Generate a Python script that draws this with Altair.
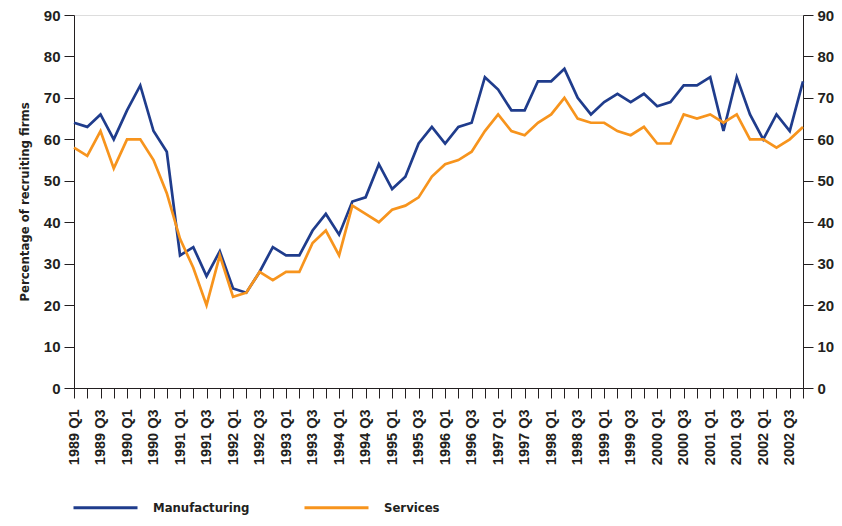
import altair as alt
import pandas as pd

years = list(range(1989, 2003))
quarters = [f"{y} Q{q}" for y in years for q in range(1, 5)]

manufacturing = [64, 63, 66, 60, 67, 73, 62, 57, 32, 34, 27, 33, 24, 23, 28, 34,
                 32, 32, 38, 42, 37, 45, 46, 54, 48, 51, 59, 63, 59, 63, 64, 75,
                 72, 67, 67, 74, 74, 77, 70, 66, 69, 71, 69, 71, 68, 69, 73, 73,
                 75, 62, 75, 66, 60, 66, 62, 74]
services = [58, 56, 62, 53, 60, 60, 55, 47, 36, 29, 20, 32, 22, 23, 28, 26,
            28, 28, 35, 38, 32, 44, 42, 40, 43, 44, 46, 51, 54, 55, 57, 62,
            66, 62, 61, 64, 66, 70, 65, 64, 64, 62, 61, 63, 59, 59, 66, 65,
            66, 64, 66, 60, 60, 58, 60, 63]

series_names = ["Manufacturing", "Services"]
series_colors = ["#1f3c8c", "#f7941d"]

rows = []
for q, m, s in zip(quarters, manufacturing, services):
    rows.append({"quarter": q, "series": "Manufacturing", "value": m})
    rows.append({"quarter": q, "series": "Services", "value": s})
df = pd.DataFrame(rows)

TXT = "#231f20"
NARROW = "'DejaVu Sans Condensed', 'Liberation Sans', sans-serif"

x_enc = alt.X(
    "quarter:O",
    sort=quarters,
    scale=alt.Scale(type="point", padding=0),
    axis=alt.Axis(
        title=None,
        labelAngle=270,
        labelAlign="right",
        labelBaseline="middle",
        labelPadding=11,
        labelFont="Liberation Sans",
        labelFontWeight="bold",
        labelFontSize=14.5,
        labelColor=TXT,
        labelExpr="indexof(datum.value, 'Q1') >= 0 || indexof(datum.value, 'Q3') >= 0 ? datum.value : ''",
        labelOverlap=False,
        tickSize=10,
        tickColor=TXT,
        domainColor=TXT,
        grid=False,
    ),
)

y_scale = alt.Scale(domain=[0, 90], nice=False)

lines = alt.Chart(df).mark_line(strokeWidth=2.7).encode(
    x=x_enc,
    y=alt.Y(
        "value:Q",
        scale=y_scale,
        axis=alt.Axis(
            orient="left",
            title="Percentage of recruiting firms",
            titleFont=NARROW,
            titleFontWeight="bold",
            titleFontSize=13,
            titleColor=TXT,
            titlePadding=12,
            values=list(range(0, 91, 10)),
            labelFont="Liberation Sans",
            labelFontWeight="bold",
            labelFontSize=15,
            labelColor=TXT,
            labelPadding=4,
            tickSize=10,
            tickColor=TXT,
            domainColor=TXT,
            grid=False,
        ),
    ),
    color=alt.Color(
        "series:N",
        scale=alt.Scale(domain=series_names, range=series_colors),
        legend=alt.Legend(
            title=None,
            orient="none",
            legendX=-2,
            legendY=459,
            direction="horizontal",
            symbolType="stroke",
            symbolSize=4096,
            symbolStrokeWidth=3,
            labelOffset=14,
            columnPadding=48,
            labelFont=NARROW,
            labelFontWeight="bold",
            labelFontSize=13,
            labelColor=TXT,
            padding=0,
            offset=0,
        ),
    ),
)

right_axis = alt.Chart(df).mark_line(opacity=0).encode(
    x=x_enc,
    y=alt.Y(
        "value:Q",
        scale=y_scale,
        axis=alt.Axis(
            orient="right",
            title=None,
            values=list(range(0, 91, 10)),
            labelFont="Liberation Sans",
            labelFontWeight="bold",
            labelFontSize=15,
            labelColor=TXT,
            labelPadding=4,
            tickSize=10,
            tickColor=TXT,
            domainColor=TXT,
            grid=False,
        ),
    ),
    detail="series:N",
)

chart = (
    alt.layer(lines, right_axis)
    .resolve_scale(y="shared")
    .resolve_axis(y="independent")
    .properties(
        width=729,
        height=373,
        autosize=alt.AutoSizeParams(type="none"),
        padding={"left": 66, "top": 7, "right": 31, "bottom": 130},
    )
    .configure_view(strokeWidth=0)
    .configure(background="white")
)

chart.save("out.html", embed_options={"renderer": "svg", "actions": False})
